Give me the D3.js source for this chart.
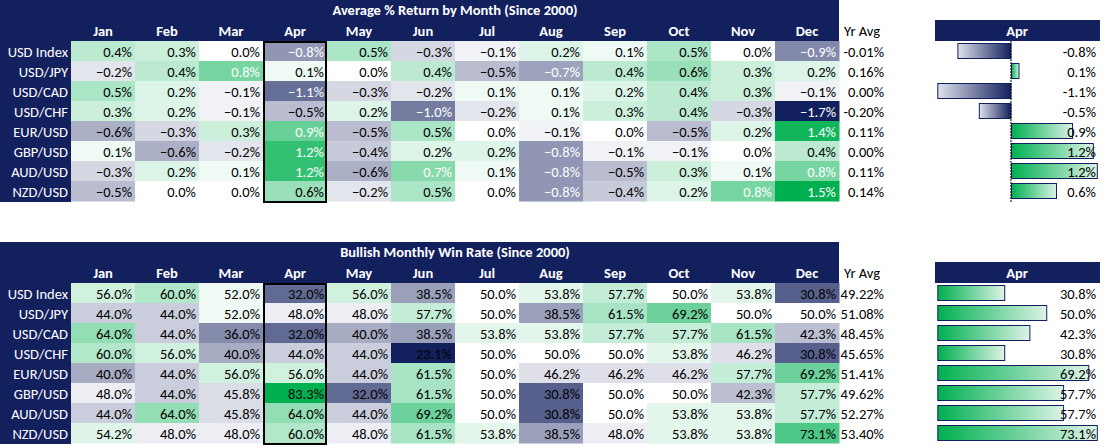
<!DOCTYPE html>
<html>
<head>
<meta charset="utf-8">
<script src="https://cdn.jsdelivr.net/npm/d3@7"></script>
<style>
  body { margin: 0; background: #fff; }
  svg text { font-family: "Carlito", "Calibri", "Lato", sans-serif; }
</style>
</head>
<body>
<svg id="chart" width="1119" height="447"></svg>
<script>
var months = ["Jan", "Feb", "Mar", "Apr", "May", "Jun", "Jul", "Aug", "Sep", "Oct", "Nov", "Dec"];
var pairs = ["USD Index", "USD/JPY", "USD/CAD", "USD/CHF", "EUR/USD", "GBP/USD", "AUD/USD", "NZD/USD"];

// Average % return by month
var avgReturn = [
  [ 0.4,  0.3,  0.0, -0.8,  0.5, -0.3, -0.1,  0.2,  0.1,  0.5,  0.0, -0.9],
  [-0.2,  0.4,  0.8,  0.1,  0.0,  0.4, -0.5, -0.7,  0.4,  0.6,  0.3,  0.2],
  [ 0.5,  0.2, -0.1, -1.1, -0.3, -0.2,  0.1,  0.1,  0.2,  0.4,  0.3, -0.1],
  [ 0.3,  0.2, -0.1, -0.5,  0.2, -1.0, -0.2,  0.1,  0.3,  0.4, -0.3, -1.7],
  [-0.6, -0.3,  0.3,  0.9, -0.5,  0.5,  0.0, -0.1,  0.0, -0.5,  0.2,  1.4],
  [ 0.1, -0.6, -0.2,  1.2, -0.4,  0.2,  0.2, -0.8, -0.1, -0.1,  0.0,  0.4],
  [-0.3,  0.2,  0.1,  1.2, -0.6,  0.7,  0.1, -0.8, -0.5,  0.3,  0.1,  0.8],
  [-0.5,  0.0,  0.0,  0.6, -0.2,  0.5,  0.0, -0.8, -0.4,  0.2,  0.8,  1.5]
];
var avgReturnYr = ["-0.01%", "0.16%", "0.00%", "-0.20%", "0.11%", "0.00%", "0.11%", "0.14%"];
var avgReturnBars = [-0.80, 0.12, -1.10, -0.48, 0.92, 1.23, 1.29, 0.68];
var avgReturnBarLabels = ["-0.8%", "0.1%", "-1.1%", "-0.5%", "0.9%", "1.2%", "1.2%", "0.6%"];

// Bullish monthly win rate
var winRate = [
  [56.0, 60.0, 52.0, 32.0, 56.0, 38.5, 50.0, 53.8, 57.7, 50.0, 53.8, 30.8],
  [44.0, 44.0, 52.0, 48.0, 48.0, 57.7, 50.0, 38.5, 61.5, 69.2, 50.0, 50.0],
  [64.0, 44.0, 36.0, 32.0, 40.0, 38.5, 53.8, 53.8, 57.7, 57.7, 61.5, 42.3],
  [60.0, 56.0, 40.0, 44.0, 44.0, 23.1, 50.0, 50.0, 50.0, 53.8, 46.2, 30.8],
  [40.0, 44.0, 56.0, 56.0, 44.0, 61.5, 50.0, 46.2, 46.2, 46.2, 57.7, 69.2],
  [48.0, 44.0, 45.8, 83.3, 32.0, 61.5, 50.0, 30.8, 50.0, 50.0, 42.3, 57.7],
  [44.0, 64.0, 45.8, 64.0, 44.0, 69.2, 50.0, 30.8, 50.0, 53.8, 53.8, 57.7],
  [54.2, 48.0, 48.0, 60.0, 48.0, 61.5, 53.8, 38.5, 48.0, 53.8, 53.8, 73.1]
];
var winRateYr = ["49.22%", "51.08%", "48.45%", "45.65%", "51.41%", "49.62%", "52.27%", "53.40%"];
var winRateBars = [30.8, 50.0, 42.3, 30.8, 69.2, 57.7, 57.7, 73.1];

var NAVY = "#13205e", GREEN = "#00b050";
var FS = 14.5;
var svg = d3.select("#chart");

var defs = svg.append("defs");
var gNeg = defs.append("linearGradient").attr("id", "gradNeg");
gNeg.append("stop").attr("offset", "0%").attr("stop-color", "#dfe1ea");
gNeg.append("stop").attr("offset", "100%").attr("stop-color", NAVY);
var gPos = defs.append("linearGradient").attr("id", "gradPos");
gPos.append("stop").attr("offset", "0%").attr("stop-color", GREEN);
gPos.append("stop").attr("offset", "100%").attr("stop-color", "#dcf3e6");

var x = d3.scaleBand().domain(months).range([71, 839]);
var labelW = 71;

function drawTable(opts) {
  var top = opts.top;
  var y = d3.scaleBand().domain(pairs).range([top + 41, top + 201]);
  var g = svg.append("g");

  // header + row label background
  g.append("rect").attr("x", 0).attr("y", top).attr("width", 839).attr("height", 41).attr("fill", NAVY);
  g.append("rect").attr("x", 0).attr("y", top).attr("width", labelW).attr("height", 202).attr("fill", NAVY);

  g.append("text")
    .attr("x", (x.range()[0] + x.range()[1]) / 2).attr("y", top + 15)
    .attr("text-anchor", "middle").attr("fill", "#fff")
    .attr("font-weight", "bold").attr("font-size", FS)
    .text(opts.title);

  g.selectAll(".mon").data(months).enter().append("text")
    .attr("x", function(d) { return x(d) + x.bandwidth() / 2; })
    .attr("y", top + 36)
    .attr("text-anchor", "middle").attr("fill", "#fff")
    .attr("font-weight", "bold").attr("font-size", FS)
    .text(function(d) { return d; });

  g.append("text").attr("x", 844).attr("y", top + 36)
    .attr("font-size", FS).attr("fill", "#000").text("Yr Avg");

  g.selectAll(".pair").data(pairs).enter().append("text")
    .attr("x", 68).attr("y", function(d) { return y(d) + 15.5; })
    .attr("text-anchor", "end").attr("fill", "#fff").attr("font-size", FS)
    .text(function(d) { return d; });

  var cells = [];
  opts.values.forEach(function(row, i) {
    row.forEach(function(v, j) { cells.push({ pair: pairs[i], month: months[j], v: v }); });
  });

  g.selectAll(".cell").data(cells).enter().append("rect")
    .attr("x", function(d) { return x(d.month); })
    .attr("y", function(d) { return y(d.pair); })
    .attr("width", x.bandwidth() + 0.5).attr("height", y.bandwidth() + 0.5)
    .attr("fill", function(d) { return opts.color(d.v); });

  g.selectAll(".val").data(cells).enter().append("text")
    .attr("x", function(d) { return x(d.month) + x.bandwidth() - 3; })
    .attr("y", function(d) { return y(d.pair) + 15.5; })
    .attr("text-anchor", "end").attr("font-size", FS)
    .attr("fill", function(d) { return opts.textColor(d.v); })
    .text(function(d) { return opts.fmt(d.v); });

  g.selectAll(".yr").data(opts.yr).enter().append("text")
    .attr("x", 884).attr("y", function(d, i) { return y(pairs[i]) + 15.5; })
    .attr("text-anchor", "end").attr("font-size", FS).attr("fill", "#000")
    .text(function(d) { return d; });

  // highlighted Apr column
  g.append("rect")
    .attr("x", x("Apr") + 1).attr("y", y.range()[0] + 1)
    .attr("width", x.bandwidth() - 2).attr("height", y.range()[1] - y.range()[0])
    .attr("fill", "none").attr("stroke", "#000").attr("stroke-width", 2);

  // right side data bar panel
  g.append("rect").attr("x", 935).attr("y", top + 20).attr("width", 165).attr("height", 21).attr("fill", NAVY);
  g.append("text").attr("x", 1017).attr("y", top + 36)
    .attr("text-anchor", "middle").attr("fill", "#fff")
    .attr("font-weight", "bold").attr("font-size", FS).text("Apr");

  var bx = opts.barScale;
  var x0 = bx(0);
  g.selectAll(".bar").data(opts.bars).enter().append("rect")
    .attr("x", function(d) { return Math.min(bx(d), x0) + 0.5; })
    .attr("y", function(d, i) { return y(pairs[i]) + 2.5; })
    .attr("width", function(d) { return Math.abs(bx(d) - x0) - 0.5; })
    .attr("height", 15)
    .attr("fill", function(d) { return d < 0 ? "url(#gradNeg)" : "url(#gradPos)"; })
    .attr("stroke", NAVY).attr("stroke-width", 1);

  if (opts.axis) {
    g.append("line").attr("x1", x0).attr("x2", x0)
      .attr("y1", y.range()[0]).attr("y2", y.range()[1] + 1)
      .attr("stroke", "#000").attr("stroke-width", 1).attr("stroke-dasharray", "2,1");
  }

  g.selectAll(".barLbl").data(opts.barLabels).enter().append("text")
    .attr("x", 1096).attr("y", function(d, i) { return y(pairs[i]) + 15.5; })
    .attr("text-anchor", "end").attr("font-size", FS).attr("fill", "#000")
    .text(function(d) { return d; });
}

var retExt = d3.extent(d3.merge(avgReturn));
drawTable({
  top: 0,
  title: "Average % Return by Month (Since 2000)",
  values: avgReturn,
  yr: avgReturnYr,
  color: d3.scaleLinear().domain([retExt[0], 0, retExt[1]]).range([NAVY, "#ffffff", GREEN]),
  textColor: function(v) { return Math.abs(v) >= 0.65 ? "#fff" : "#000"; },
  fmt: function(v) { return d3.format(".1f")(v) + "%"; },
  bars: avgReturnBars,
  barLabels: avgReturnBarLabels,
  barScale: d3.scaleLinear().domain([-1.10, 1.30]).range([937.3, 1098]),
  axis: true
});

var winExt = d3.extent(d3.merge(winRate));
drawTable({
  top: 242,
  title: "Bullish Monthly Win Rate (Since 2000)",
  values: winRate,
  yr: winRateYr,
  color: d3.scaleLinear().domain([winExt[0], 50, winExt[1]]).range([NAVY, "#ffffff", GREEN]),
  textColor: function() { return "#000"; },
  fmt: function(v) { return d3.format(".1f")(v) + "%"; },
  bars: winRateBars,
  barLabels: winRateBars.map(function(v) { return d3.format(".1f")(v) + "%"; }),
  barScale: d3.scaleLinear().domain([0, 73.1]).range([937.3, 1097.3]),
  axis: false
});
</script>
</body>
</html>
